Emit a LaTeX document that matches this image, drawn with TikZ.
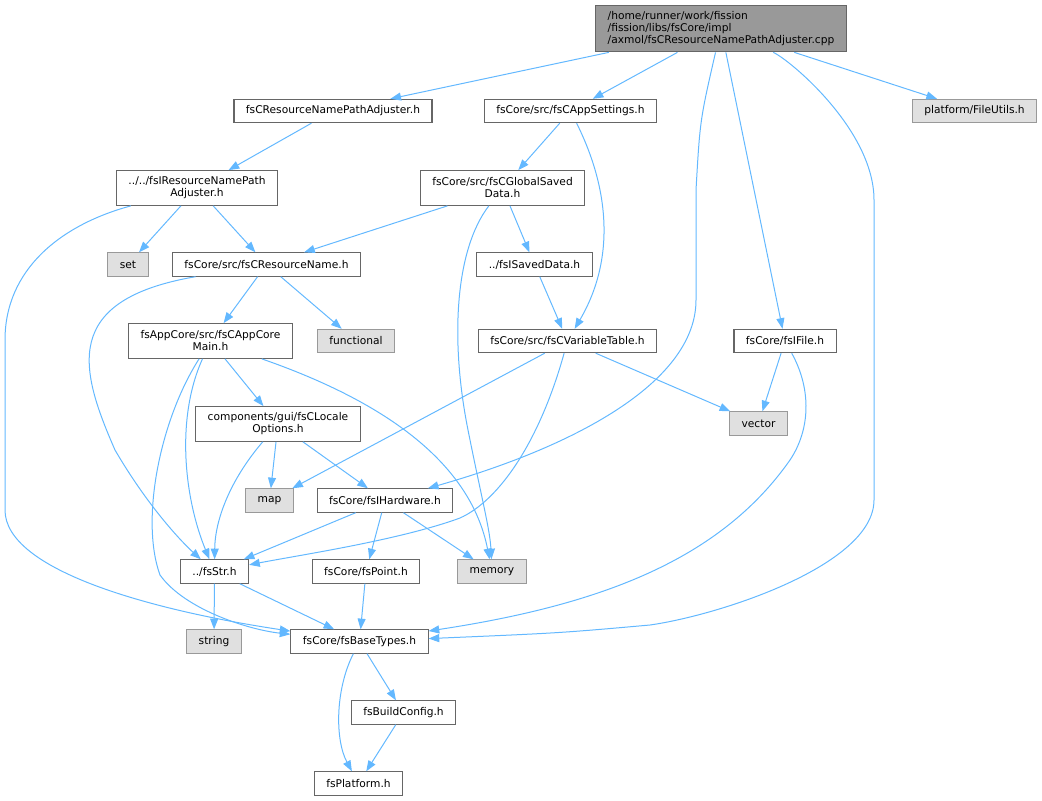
\documentclass[tikz,border=0pt]{standalone}
\usepackage{fontspec}
\setmainfont{DejaVu Sans}
\usepackage{xcolor}
\usepackage{tikz}
\usetikzlibrary{arrows.meta}
\definecolor{depblue}{HTML}{63B8FF}
\definecolor{boxline}{HTML}{666666}
\definecolor{sysline}{HTML}{999999}
\definecolor{sysfill}{HTML}{E0E0E0}
\definecolor{mainfill}{HTML}{999999}

\begin{document}
\begin{tikzpicture}[x=0.75pt, y=-0.75pt,
  file/.style={draw=boxline, fill=white, line width=0.8pt, inner xsep=9pt, inner ysep=2pt, minimum height=17.5pt, font=\fontsize{8}{9}\selectfont, align=center},
  twoline/.style={file, minimum height=26pt},
  sysfile/.style={file, draw=sysline, fill=sysfill},
  mainfile/.style={file, fill=mainfill, align=left, minimum height=35pt},
  dep/.style={draw=depblue, line width=0.75pt, -{Triangle[length=8pt,width=6pt]}}]
\useasboundingbox (0,0) rectangle (1042,800);

\node[mainfile] (main) at (721,28.5) {/home/runner/work/fission\\/fission/libs/fsCore/impl\\/axmol/fsCResourceNamePathAdjuster.cpp};
\node[file] (adjh) at (333,111) {fsCResourceNamePathAdjuster.h};
\node[file] (appset) at (570.5,111) {fsCore/src/fsCAppSettings.h};
\node[sysfile] (fileutils) at (974.5,111) {platform/FileUtils.h};
\node[twoline] (iadj) at (197,188) {../../fsIResourceNamePath\\Adjuster.h};
\node[twoline] (gsaved) at (502.5,188) {fsCore/src/fsCGlobalSaved\\Data.h};
\node[sysfile] (set) at (128,264.5) {set};
\node[file] (resname) at (266.5,264.5) {fsCore/src/fsCResourceName.h};
\node[file] (isaved) at (534.5,264.5) {../fsISavedData.h};
\node[twoline] (appcore) at (210.5,341) {fsAppCore/src/fsCAppCore\\Main.h};
\node[sysfile] (functional) at (356,341) {functional};
\node[file] (vartable) at (567.5,341) {fsCore/src/fsCVariableTable.h};
\node[file] (ifile) at (785,341) {fsCore/fsIFile.h};
\node[sysfile] (vector) at (758.5,423.5) {vector};
\node[twoline] (locale) at (278,424) {components/gui/fsCLocale\\Options.h};
\node[sysfile] (map) at (269.5,500.5) {map};
\node[file] (hardware) at (385,500.5) {fsCore/fsIHardware.h};
\node[file] (str) at (214.5,571.5) {../fsStr.h};
\node[file] (point) at (366,571.5) {fsCore/fsPoint.h};
\node[sysfile] (memory) at (492,571.5) {memory};
\node[sysfile] (string) at (214,641.5) {string};
\node[file] (basetypes) at (359.5,641.5) {fsCore/fsBaseTypes.h};
\node[file] (buildcfg) at (403.5,712.5) {fsBuildConfig.h};
\node[file] (platform) at (358.5,783.5) {fsPlatform.h};

\draw[dep] (main) -- (adjh);
\draw[dep] (main) -- (appset);
\draw[dep] (main) -- (ifile);
\draw[dep] (main) -- (fileutils);
\draw[dep] (main) .. controls (700,120) .. (696,190) -- (696,300) .. controls (696,380) and (580,445) .. (hardware);
\draw[dep] (main) .. controls (790,60) and (874,130) .. (874,200) -- (874,500) .. controls (874,565) and (720,615) .. (650,625) .. controls (560,633) .. (basetypes);
\draw[dep] (adjh) -- (iadj);
\draw[dep] (appset) -- (gsaved);
\draw[dep] (appset) .. controls (610,190) and (615,260) .. (vartable);
\draw[dep] (iadj) -- (set);
\draw[dep] (iadj) -- (resname);
\draw[dep] (iadj) .. controls (60,225) and (5,270) .. (5,340) -- (5,510) .. controls (5,570) and (150,610) .. (basetypes);
\draw[dep] (gsaved) -- (resname);
\draw[dep] (gsaved) -- (isaved);
\draw[dep] (gsaved) .. controls (455,250) and (450,340) .. (468,430) .. controls (482,500) and (490,530) .. (memory);
\draw[dep] (resname) -- (appcore);
\draw[dep] (resname) -- (functional);
\draw[dep] (resname) .. controls (60,300) and (80,370) .. (115,450) .. controls (150,510) and (185,545) .. (str);
\draw[dep] (isaved) -- (vartable);
\draw[dep] (appcore) -- (locale);
\draw[dep] (appcore) .. controls (175,420) and (185,500) .. (str);
\draw[dep] (appcore) .. controls (160,420) and (140,520) .. (160,575) .. controls (185,610) and (250,630) .. (basetypes);
\draw[dep] (appcore) .. controls (380,400) and (470,460) .. (memory);
\draw[dep] (vartable) -- (map);
\draw[dep] (vartable) .. controls (540,440) and (500,500) .. (460,518) .. controls (400,540) and (300,555) .. (str);
\draw[dep] (vartable) -- (vector);
\draw[dep] (ifile) -- (vector);
\draw[dep] (ifile) .. controls (812,390) and (810,430) .. (790,460) .. controls (720,560) and (600,605) .. (basetypes);
\draw[dep] (locale) -- (map);
\draw[dep] (locale) -- (hardware);
\draw[dep] (locale) .. controls (230,480) and (215,520) .. (str);
\draw[dep] (hardware) -- (str);
\draw[dep] (hardware) -- (point);
\draw[dep] (hardware) -- (memory);
\draw[dep] (str) -- (string);
\draw[dep] (str) -- (basetypes);
\draw[dep] (point) -- (basetypes);
\draw[dep] (basetypes) -- (buildcfg);
\draw[dep] (basetypes) .. controls (335,690) and (335,740) .. (platform);
\draw[dep] (buildcfg) -- (platform);
\end{tikzpicture}
\end{document}
